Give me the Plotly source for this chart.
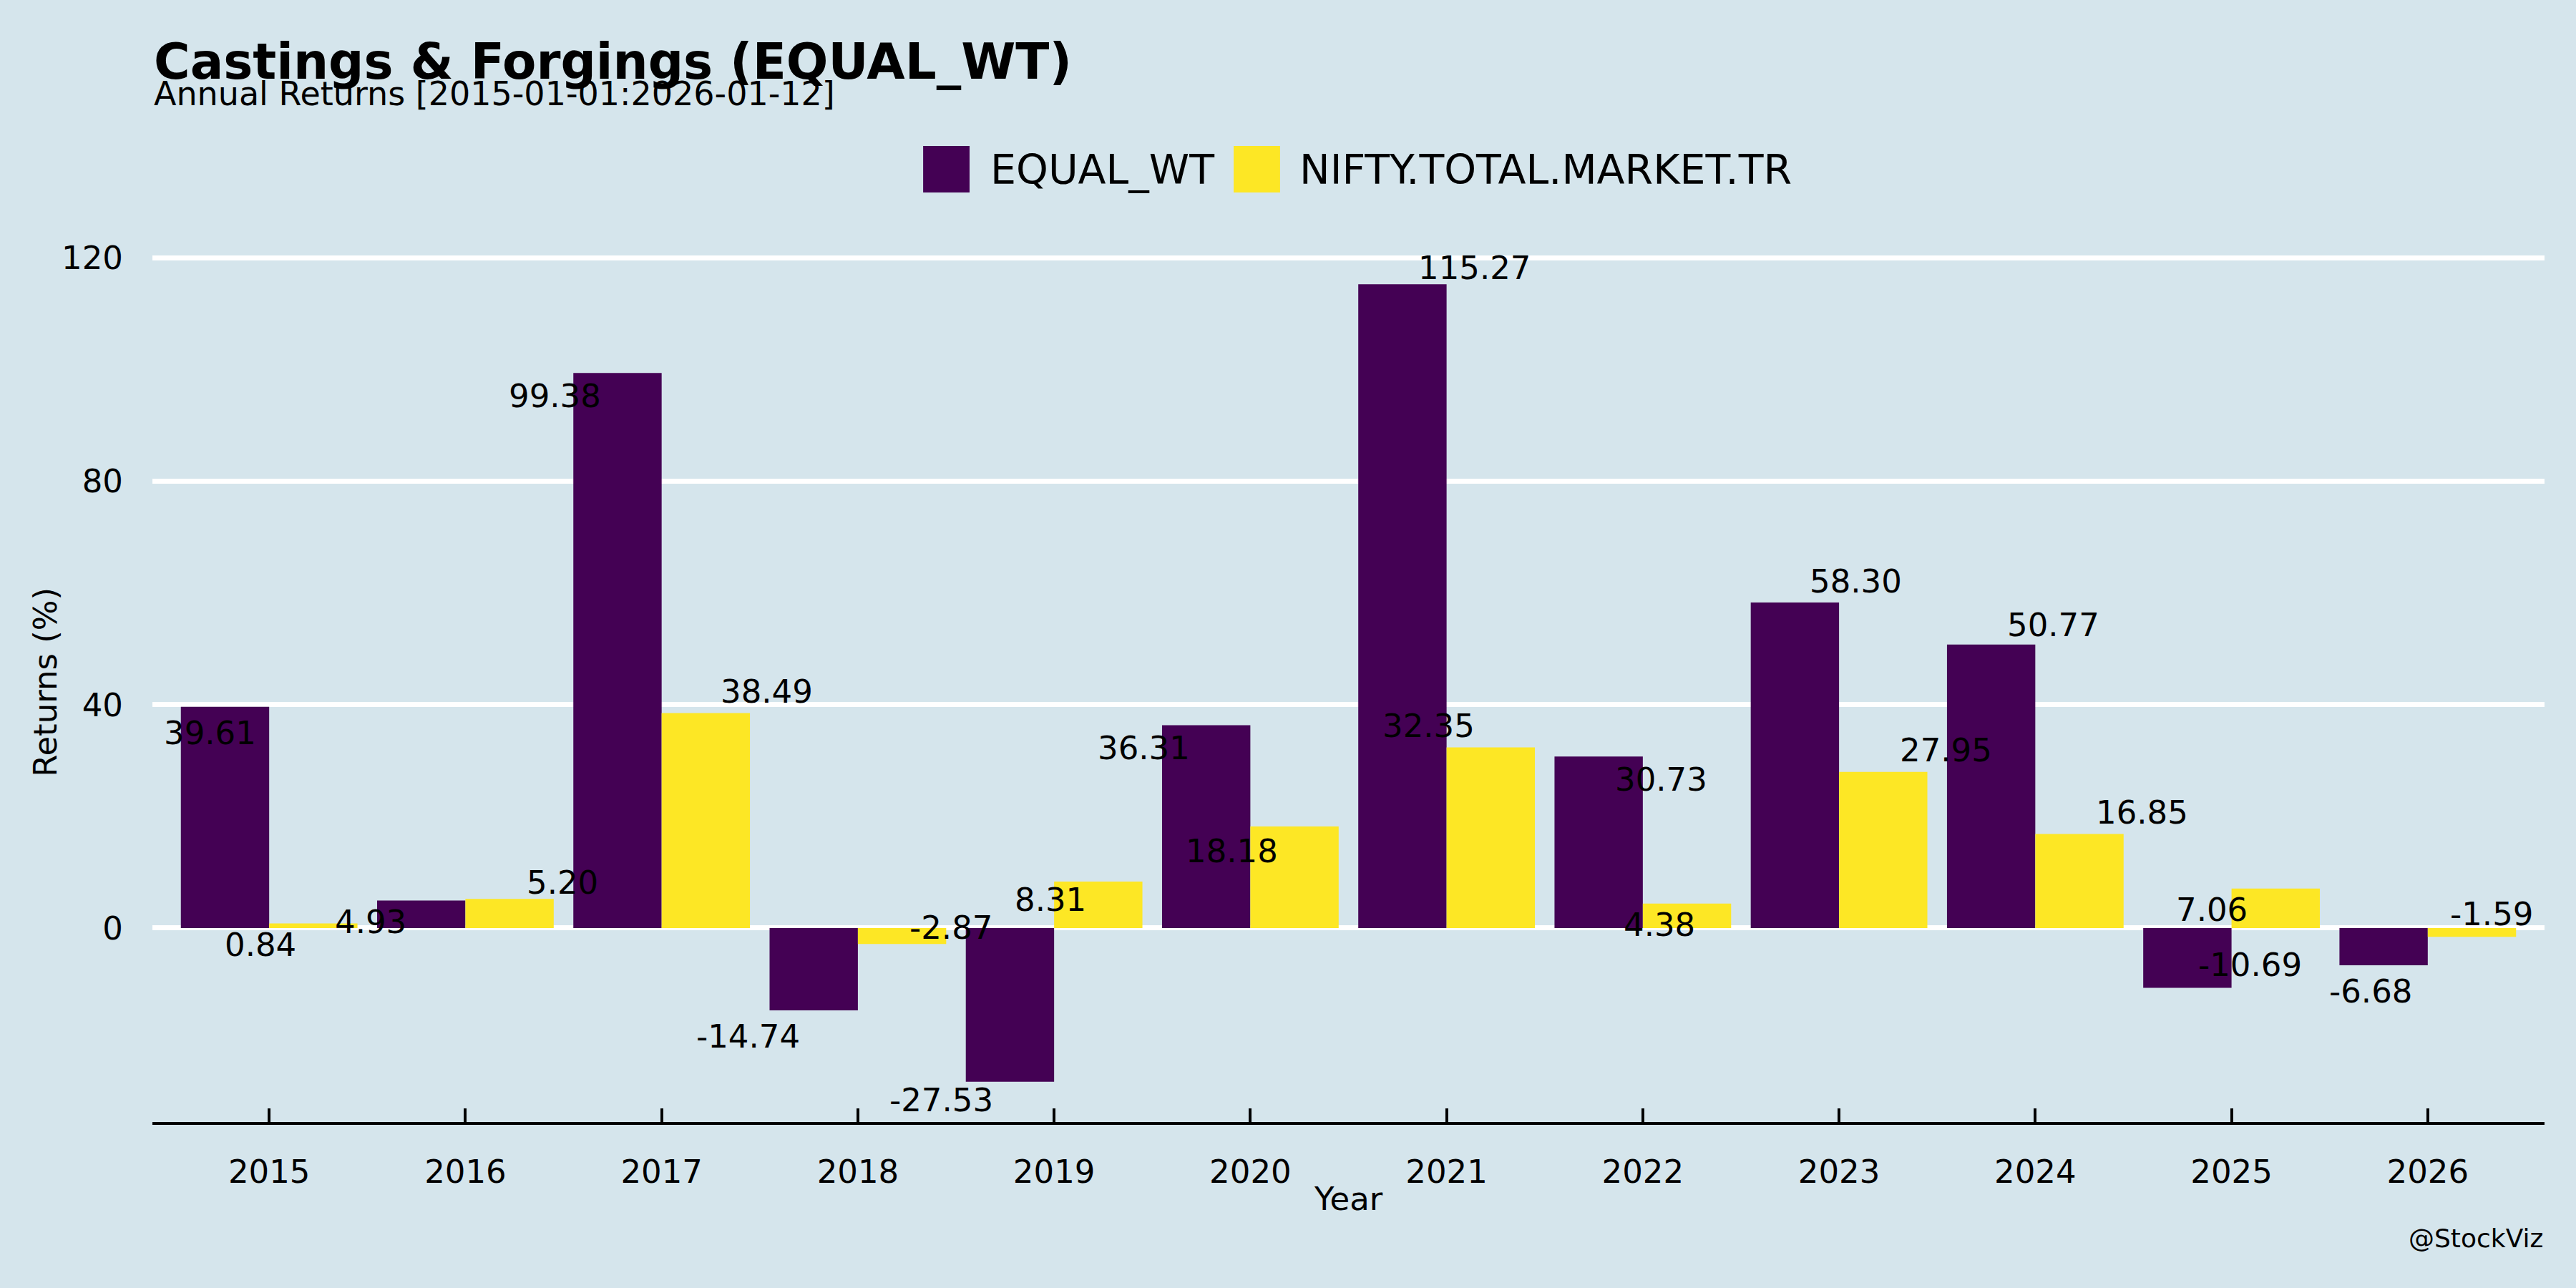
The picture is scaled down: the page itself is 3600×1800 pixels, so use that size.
import plotly.graph_objects as go

years = [2015, 2016, 2017, 2018, 2019, 2020, 2021, 2022, 2023, 2024, 2025, 2026]
equal_wt = [39.61, 4.93, 99.38, -14.74, -27.53, 36.31, 115.27, 30.73, 58.30, 50.77, -10.69, -6.68]
nifty_tmtr = [0.84, 5.20, 38.49, -2.87, 8.31, 18.18, 32.35, 4.38, 27.95, 16.85, 7.06, -1.59]
series_names = ["EQUAL_WT", "NIFTY.TOTAL.MARKET.TR"]
y_ticks = [0, 40, 80, 120]

# label nudges (reference px at 1568 width; dx right, dy down)
eq_dx = [-9, -31, -38, -40, -42, -38, 44, 38, 37, 38, 38, -8]
eq_dy = [16, 13, 14, 16, 11, 14, -10, 14, -13, -12, -14, 16]
nf_dx = [-32, 32, 37, 30, -29, -38, -38, -17, 38, 38, -39, 12]
nf_dy = [13, -10, -13, -10, 11, 15, -13, 13, -13, -13, 13, -14]

S = 3600 / 1568
PURPLE = "#440154"
YELLOW = "#fde725"
BG = "#d5e5ec"
FONT = "DejaVu Sans"

fig = go.Figure()
fig.add_trace(go.Bar(x=years, y=equal_wt, name=series_names[0], marker_color=PURPLE,
                     marker_line_width=0, showlegend=False))
fig.add_trace(go.Bar(x=years, y=nifty_tmtr, name=series_names[1], marker_color=YELLOW,
                     marker_line_width=0, showlegend=False))

ann = []
half = 0.225
for i, yr in enumerate(years):
    ann.append(dict(x=yr - half, y=equal_wt[i], xref="x", yref="y", text=f"{equal_wt[i]:.2f}",
                    showarrow=False, xshift=eq_dx[i] * S, yshift=-eq_dy[i] * S,
                    font=dict(family=FONT, size=45, color="black")))
    ann.append(dict(x=yr + half, y=nifty_tmtr[i], xref="x", yref="y", text=f"{nifty_tmtr[i]:.2f}",
                    showarrow=False, xshift=nf_dx[i] * S, yshift=-nf_dy[i] * S,
                    font=dict(family=FONT, size=45, color="black")))

# titles
ann.append(dict(x=0, y=1.1668, xref="paper", yref="paper", xanchor="left", yanchor="middle",
                text="<b>Castings & Forgings (EQUAL_WT)</b>", showarrow=False,
                font=dict(family=FONT, size=69, color="black")))
ann.append(dict(x=0, y=1.1315, xref="paper", yref="paper", xanchor="left", yanchor="middle",
                text="Annual Returns [2015-01-01:2026-01-12]", showarrow=False,
                font=dict(family=FONT, size=46, color="black")))
# axis titles
ann.append(dict(x=0.5, y=-0.085, xref="paper", yref="paper", xanchor="center", yanchor="middle",
                text="Year", showarrow=False, font=dict(family=FONT, size=45, color="black")))
ann.append(dict(x=-0.0446, y=0.4843, xref="paper", yref="paper", xanchor="center", yanchor="middle",
                text="Returns (%)", textangle=-90, showarrow=False,
                font=dict(family=FONT, size=45, color="black")))
# legend
ann.append(dict(x=0.3497, y=1.0484, xref="paper", yref="paper", xanchor="left", yanchor="middle",
                text=series_names[0], showarrow=False, font=dict(family=FONT, size=57, color="black")))
ann.append(dict(x=0.4789, y=1.0484, xref="paper", yref="paper", xanchor="left", yanchor="middle",
                text=series_names[1], showarrow=False, font=dict(family=FONT, size=57, color="black")))
# caption
ann.append(dict(x=1, y=-0.1276, xref="paper", yref="paper", xanchor="right", yanchor="middle",
                text="@StockViz", showarrow=False, font=dict(family=FONT, size=36, color="black")))

shapes = [
    dict(type="rect", xref="paper", yref="paper", x0=0.3222, x1=0.3416, y0=1.0228, y1=1.0740,
         fillcolor=PURPLE, line=dict(width=0)),
    dict(type="rect", xref="paper", yref="paper", x0=0.4520, x1=0.4714, y0=1.0228, y1=1.0740,
         fillcolor=YELLOW, line=dict(width=0)),
]

fig.update_layout(
    width=3600, height=1800,
    paper_bgcolor=BG, plot_bgcolor=BG,
    margin=dict(l=213, r=44, t=298, b=232, autoexpand=False),
    barmode="group", bargap=0.1, bargroupgap=0,
    font=dict(family=FONT, size=45, color="black"),
    annotations=ann, shapes=shapes,
    showlegend=False,
)
fig.update_xaxes(
    range=[2014.405, 2026.595], tickmode="array", tickvals=years, ticktext=[str(y) for y in years],
    showgrid=False, zeroline=False, showline=True, linecolor="black", linewidth=3.5,
    ticks="inside", ticklen=19, tickwidth=3.5, tickcolor="black",
    ticklabelstandoff=27,
    tickfont=dict(family=FONT, size=45, color="black"),
    automargin=False,
)
fig.update_yaxes(
    range=[-34.73, 128.0], tickmode="array", tickvals=y_ticks,
    showgrid=True, gridcolor="white", gridwidth=7, zeroline=False, showline=False, ticks="",
    ticklabelstandoff=40,
    tickfont=dict(family=FONT, size=45, color="black"),
    automargin=False,
)

fig.write_html("out.html", config={"displayModeBar": False},
               post_script="document.body.style.margin='0';document.body.style.background='%s';" % BG)
